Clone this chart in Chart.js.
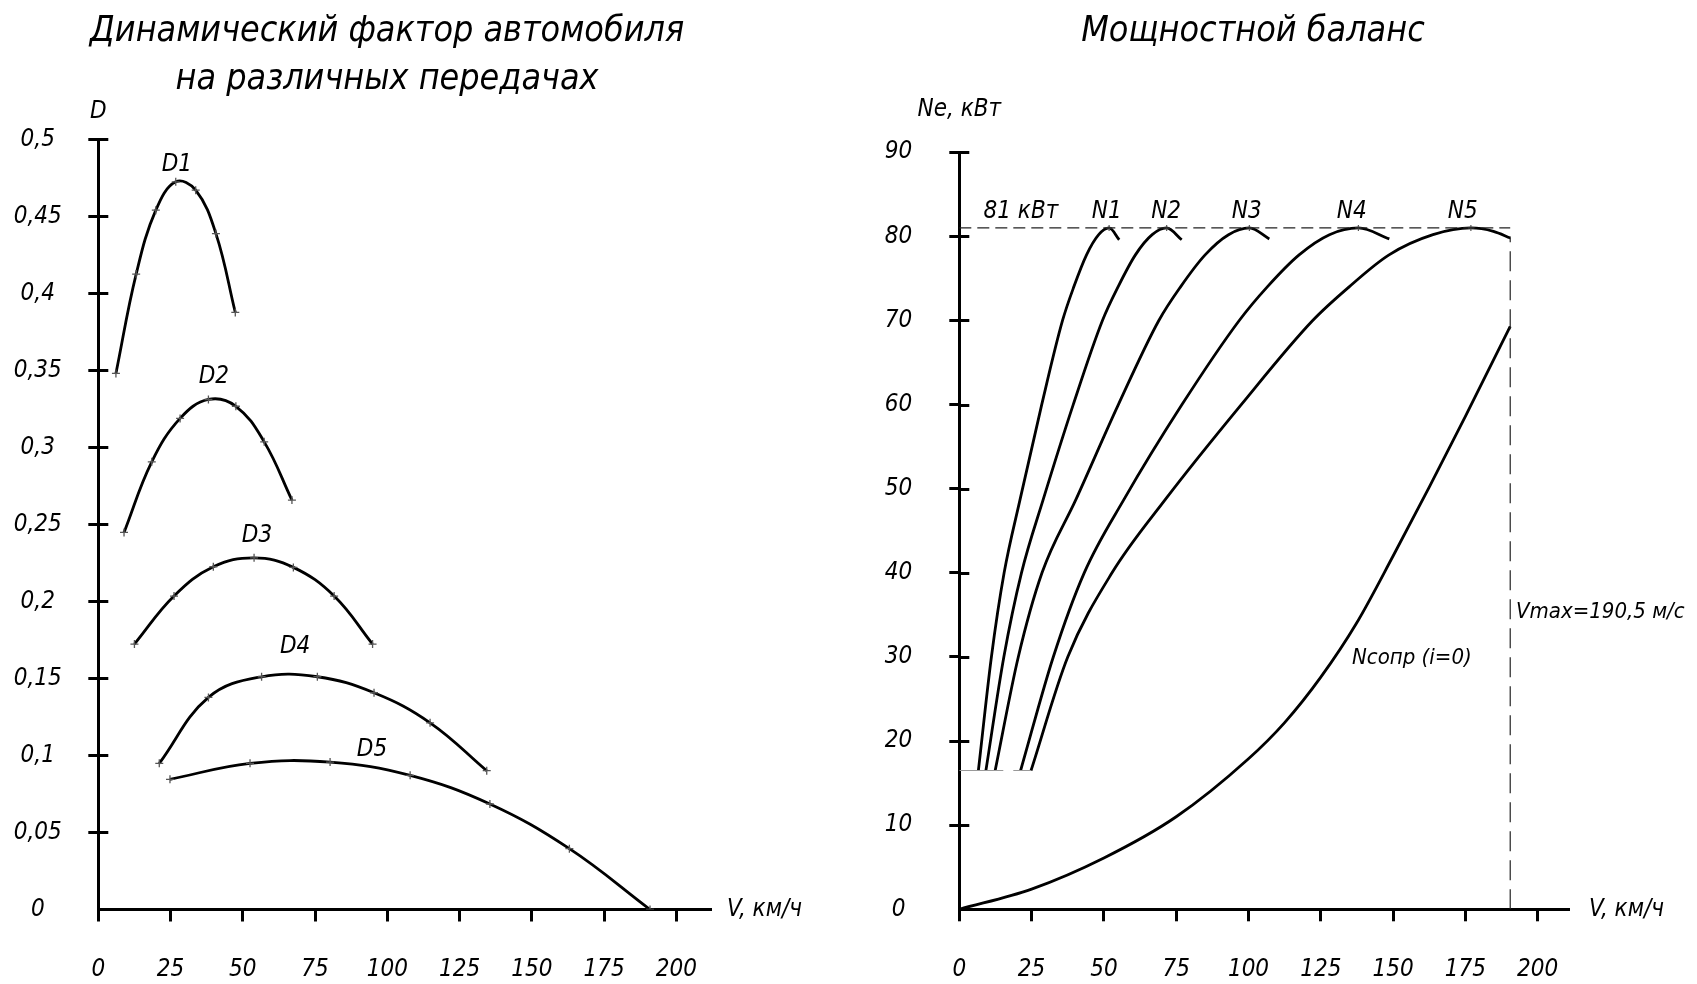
<!DOCTYPE html>
<html>
<head>
<meta charset="utf-8">
<script src="https://cdn.jsdelivr.net/npm/chart.js@4.4.1/dist/chart.umd.min.js"></script>
<style>
  html, body { margin: 0; padding: 0; background: #fff; overflow: hidden; width: 1697px; height: 984px; }
  canvas { position: absolute; top: 0; }
  #left { left: 0px; }
  #right { left: 848px; }
</style>
</head>
<body>
<canvas id="left" width="848" height="984"></canvas>
<canvas id="right" width="849" height="984"></canvas>
<script>
// ---------- tick values and labels ----------
const V_TICKS = [0, 25, 50, 75, 100, 125, 150, 175, 200];
const V_TICK_LABELS = ['0', '25', '50', '75', '100', '125', '150', '175', '200'];
const D_TICKS = [0, 0.05, 0.1, 0.15, 0.2, 0.25, 0.3, 0.35, 0.4, 0.45, 0.5];
const D_TICK_LABELS = ['0', '0,05', '0,1', '0,15', '0,2', '0,25', '0,3', '0,35', '0,4', '0,45', '0,5'];
const N_TICKS = [0, 10, 20, 30, 40, 50, 60, 70, 80, 90];
const N_TICK_LABELS = ['0', '10', '20', '30', '40', '50', '60', '70', '80', '90'];

// ---------- dynamic factor D (left chart) ----------
const D1_V = [6.1, 13.1, 19.9, 26.8, 33.7, 40.7, 47.4];
const D1   = [0.348, 0.4125, 0.454, 0.4724, 0.467, 0.4388, 0.3876];
const D2_V = [8.9, 18.5, 28.3, 38.1, 47.6, 57.4, 67.0];
const D2   = [0.2448, 0.2906, 0.3188, 0.3311, 0.3267, 0.3036, 0.2658];
const D3_V = [12.5, 26.2, 39.8, 53.9, 67.5, 81.6, 94.9];
const D3   = [0.1723, 0.2035, 0.2225, 0.2283, 0.2221, 0.2035, 0.1723];
const D4_V = [21.1, 38.1, 56.5, 75.8, 95.4, 114.8, 134.4];
const D4   = [0.0949, 0.1377, 0.1511, 0.1511, 0.1407, 0.1212, 0.0901];
const D5_V = [24.8, 52.5, 80.2, 107.9, 135.5, 163.0, 190.9];
const D5   = [0.0845, 0.0949, 0.0957, 0.0871, 0.0685, 0.0395, 0.0];
const D_NAMES = ['D1', 'D2', 'D3', 'D4', 'D5'];

// ---------- power balance (right chart) ----------
const N1_V = [6.6, 11.1, 15.5, 21.0, 28.5, 35.7, 39.6, 44.0, 48.2, 51.8, 55.3];
const N1   = [16.5, 30, 40, 48.7, 60, 70, 74, 77.8, 80.2, 81, 79.6];
const N2_V = [9.2, 15.4, 21.5, 29.0, 39.4, 49.5, 54.9, 60.9, 66.7, 71.7, 76.9];
const N2   = [16.5, 30, 40, 48.7, 60, 70, 74, 77.8, 80.2, 81, 79.6];
const N3_V = [12.4, 20.4, 28.6, 40.3, 55.0, 69.0, 76.5, 85.0, 93.1, 100.3, 107.2];
const N3   = [16.5, 30, 40, 48.7, 60, 70, 74, 77.8, 80.2, 81, 79.7];
const N4_V = [21.2, 32.5, 43.2, 56.9, 77.0, 96.8, 106.5, 117.5, 128.0, 138.0, 148.7];
const N4   = [16.5, 30, 40, 48.7, 60, 70, 74, 77.8, 80.2, 81, 79.7];
const N5_V = [24.8, 37.5, 52.8, 71.2, 97.5, 122.2, 134.8, 148.6, 163.8, 176.9, 184.7, 190.6];
const N5   = [16.5, 30, 40, 48.7, 60, 70, 74, 77.8, 80.2, 81, 80.6, 79.8];
const NRES_V = [0, 25, 50, 75, 100, 112.5, 125, 137.5, 150, 162.5, 175, 190.5];
const NRES   = [0, 2.4, 6.1, 11.0, 17.9, 22.2, 27.6, 34.1, 42.0, 50.2, 58.6, 69.3];
const N_NAMES = ['N1', 'N2', 'N3', 'N4', 'N5'];
const N_MAX = 81;        // кВт
const V_MAX = 190.5;     // Vmax
const N_MIN = 16.5;      // lower start level of the curves
const N5_END = 79.8;

// ---------- styles ----------
const FONT_FAMILY = "'DejaVu Sans Condensed', 'DejaVu Sans', sans-serif";
const TICK_FONT = { family: FONT_FAMILY, size: 24, style: 'italic', weight: 'normal' };
const TITLE_FONT = { family: FONT_FAMILY, size: 35.6, style: 'italic', weight: 'normal', lineHeight: 1.35 };

const pts = (xs, ys) => xs.map((x, i) => ({ x, y: ys[i] }));

// text labels placed in data coordinates
const textPlugin = {
  id: 'texts',
  afterDraw(chart, args, opts) {
    const { ctx } = chart;
    const xs = chart.scales.x, ys = chart.scales.y;
    ctx.save();
    ctx.fillStyle = '#000';
    ctx.textBaseline = 'middle';
    for (const t of opts.items) {
      ctx.font = `italic normal ${t.size || opts.size}px ${FONT_FAMILY}`;
      ctx.textAlign = t.align || 'center';
      ctx.fillText(t.text, xs.getPixelForValue(t.x), ys.getPixelForValue(t.y));
    }
    ctx.restore();
  }
};

// inner half of the y-axis ticks (ticks cross the axis line)
const innerTicks = {
  id: 'innerTicks',
  beforeDatasetsDraw(chart) {
    const { ctx, chartArea } = chart;
    const ys = chart.scales.y;
    ctx.save();
    ctx.strokeStyle = '#000';
    ctx.lineWidth = 3;
    ctx.beginPath();
    ys.ticks.forEach(t => {
      if (t.value === 0) return;
      const p = Math.round(ys.getPixelForValue(t.value)) + 0.5;
      ctx.moveTo(chartArea.left, p);
      ctx.lineTo(chartArea.left + 10, p);
    });
    ctx.stroke();
    ctx.restore();
  }
};

function axes(xMax, yMax, yTicks, yLabels, yWidth, yPad, xHeight, spacer) {
  return {
    x: {
      type: 'linear', min: 0, max: xMax,
      afterBuildTicks: s => { s.ticks = V_TICKS.map(v => ({ value: v })); },
      afterFit: s => { s.height = xHeight; },
      border: { display: true, color: '#000', width: 3 },
      grid: { display: true, drawOnChartArea: false, drawTicks: true, tickLength: 12, tickWidth: 3, tickColor: '#000' },
      ticks: { font: TICK_FONT, color: '#000', padding: 34, maxRotation: 0, autoSkip: false,
               callback: (v, i) => V_TICK_LABELS[i] }
    },
    y: {
      type: 'linear', min: 0, max: yMax,
      afterBuildTicks: s => { s.ticks = yTicks.map(v => ({ value: v })); },
      afterFit: s => { s.width = yWidth; },
      border: { display: true, color: '#000', width: 3 },
      grid: { display: true, drawOnChartArea: false, drawTicks: true, tickLength: 10, tickWidth: 3,
              tickColor: c => (c.tick && c.tick.value === 0) ? 'rgba(0,0,0,0)' : '#000' },
      ticks: { font: TICK_FONT, color: '#000', padding: yPad, crossAlign: 'center', autoSkip: false,
               callback: (v, i) => yLabels[i] }
    },
    // empty right-hand strip (no ticks, no line), keeps the plot narrower than the title band
    spacer: {
      type: 'linear', position: 'right', min: 0, max: 1, display: true,
      afterFit: s => { s.width = spacer; },
      border: { display: false }, grid: { display: false }, ticks: { display: false }
    }
  };
}

const dLine = (xs, ys) => ({
  data: pts(xs, ys), borderColor: '#000', borderWidth: 2.8, tension: 0.4,
  pointStyle: 'cross', pointRadius: 4, pointBorderColor: '#555', pointBorderWidth: 1.3, fill: false
});
const nLine = (xs, ys) => {
  const peak = ys.indexOf(Math.max(...ys));
  return {
    data: pts(xs, ys), borderColor: '#000', borderWidth: 2.8, cubicInterpolationMode: 'monotone',
    pointStyle: 'cross', pointRadius: c => c.dataIndex === peak ? 3 : 0, pointBorderColor: '#555',
    pointBorderWidth: 1.2, fill: false
  };
};

// ---------- left chart ----------
new Chart(document.getElementById('left'), {
  type: 'line',
  data: {
    datasets: [dLine(D1_V, D1), dLine(D2_V, D2), dLine(D3_V, D3), dLine(D4_V, D4), dLine(D5_V, D5)]
  },
  options: {
    responsive: false, animation: false, devicePixelRatio: 1,
    layout: { padding: { left: 0, right: 74, top: 0, bottom: 0 } },
    scales: axes(212, 0.5, D_TICKS, D_TICK_LABELS, 98.3, 26.5, 74.5, 63),
    plugins: {
      legend: { display: false }, tooltip: { enabled: false },
      title: { display: true, text: ['Динамический фактор автомобиля', 'на различных передачах'],
               color: '#000', font: TITLE_FONT, padding: { top: 8, bottom: 35.2 } },
      texts: {
        size: 24,
        items: [
          { text: 'D', x: 0, y: 0.518 },
          { text: 'V, км/ч', x: 217.5, y: 0, align: 'left' },
          { text: D_NAMES[0], x: 27.2, y: 0.4838 },
          { text: D_NAMES[1], x: 40.0, y: 0.3456 },
          { text: D_NAMES[2], x: 54.9, y: 0.2424 },
          { text: D_NAMES[3], x: 68.1, y: 0.1704 },
          { text: D_NAMES[4], x: 94.7, y: 0.1035 }
        ]
      }
    }
  },
  plugins: [textPlugin, innerTicks]
});

// ---------- right chart ----------
new Chart(document.getElementById('right'), {
  type: 'line',
  data: {
    datasets: [
      { data: [{ x: 0, y: N_MAX }, { x: V_MAX, y: N_MAX }], borderColor: '#222', borderWidth: 1.2,
        borderDash: [12, 6], pointRadius: 0, fill: false },
      { data: [{ x: V_MAX, y: 0 }, { x: V_MAX, y: N5_END }], borderColor: '#222', borderWidth: 1.2,
        borderDash: [20, 9], pointRadius: 0, fill: false },
      { data: [{ x: 0, y: N_MIN }, { x: N5_V[0], y: N_MIN }], borderColor: '#999', borderWidth: 1.2,
        borderDash: [44, 10], pointRadius: 0, fill: false },
      nLine(N1_V, N1), nLine(N2_V, N2), nLine(N3_V, N3), nLine(N4_V, N4), nLine(N5_V, N5),
      { data: pts(NRES_V, NRES), borderColor: '#000', borderWidth: 2.8, cubicInterpolationMode: 'monotone',
        pointRadius: 0, fill: false }
    ]
  },
  options: {
    responsive: false, animation: false, devicePixelRatio: 1,
    layout: { padding: { left: 0, right: 39, top: 0, bottom: 0 } },
    scales: axes(211, 90, N_TICKS, N_TICK_LABELS, 111.3, 37, 74.7, 88.5),
    plugins: {
      legend: { display: false }, tooltip: { enabled: false },
      title: { display: true, text: 'Мощностной баланс', color: '#000', font: TITLE_FONT,
               padding: { top: 8, bottom: 96.2 } },
      texts: {
        size: 24,
        items: [
          { text: 'Ne, кВт', x: 0, y: 95.0 },
          { text: 'V, км/ч', x: 217.7, y: 0, align: 'left' },
          { text: '81 кВт', x: 21.3, y: 82.9 },
          { text: N_NAMES[0], x: 51.0, y: 82.9 },
          { text: N_NAMES[1], x: 71.5, y: 82.9 },
          { text: N_NAMES[2], x: 99.4, y: 82.9 },
          { text: N_NAMES[3], x: 135.7, y: 82.9 },
          { text: N_NAMES[4], x: 174.1, y: 82.9 },
          { text: 'Vmax=190,5 м/с', x: 192.5, y: 35.3, align: 'left', size: 22 },
          { text: 'Nсопр (i=0)', x: 156.5, y: 29.9, size: 22 }
        ]
      }
    }
  },
  plugins: [textPlugin, innerTicks]
});
</script>
</body>
</html>
